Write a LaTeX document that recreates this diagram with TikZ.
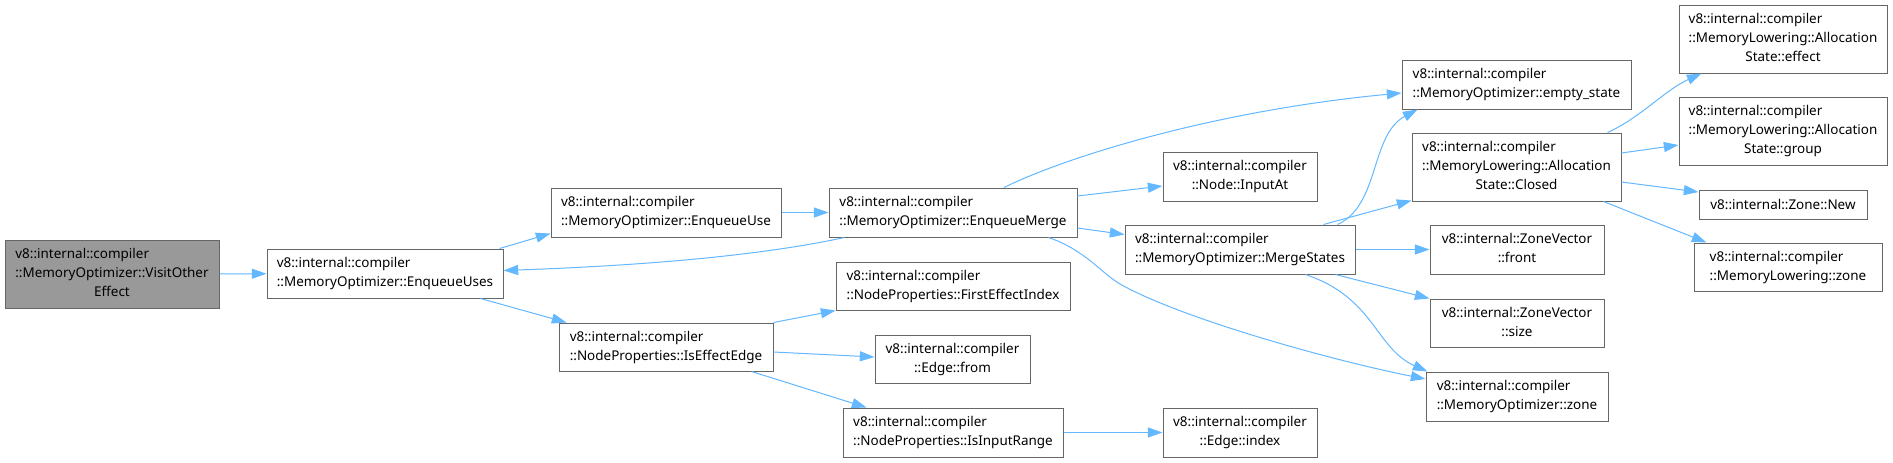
\documentclass[tikz,border=0pt]{standalone}
\usepackage{fontspec}
\setmainfont{Noto Sans}
\usetikzlibrary{calc,arrows.meta}
\definecolor{edgeblue}{HTML}{63B8FF}
\definecolor{nodeborder}{HTML}{666666}
\definecolor{rootfill}{HTML}{999999}
\newcommand\lbltwo[2]{\begin{tabular}{@{}l@{}}#1\\\multicolumn{1}{@{}c@{}}{#2}\end{tabular}}
\newcommand\lblthree[3]{\begin{tabular}{@{}l@{}}#1\\#2\\\multicolumn{1}{@{}c@{}}{#3}\end{tabular}}
\begin{document}
\begin{tikzpicture}[x=0.75pt,y=-0.75pt,
  font=\fontsize{10.1}{14.2}\selectfont,
  box/.style={draw=nodeborder, line width=0.75pt, fill=white, inner sep=0pt, align=center, text=black},
  root/.style={box, fill=rootfill},
  wh/.style 2 args={minimum width=#1*0.75pt, minimum height=#2*0.75pt},
  conn/.style={draw=edgeblue, line width=0.75pt, -{Triangle[length=11pt,width=7.5pt]}}]
\fill[white] (0,0) rectangle (1893,462);
\useasboundingbox (0,0) rectangle (1893,462);

\node[root, wh={214}{68}] (visit) at (112,274) {\lblthree{v8::internal::compiler}{::MemoryOptimizer::VisitOther}{Effect}};
\node[box, wh={236}{49}] (uses) at (385,273.5) {\lbltwo{v8::internal::compiler}{::MemoryOptimizer::EnqueueUses}};
\node[box, wh={230}{49}] (use) at (666,212.5) {\lbltwo{v8::internal::compiler}{::MemoryOptimizer::EnqueueUse}};
\node[box, wh={248}{49}] (merge) at (953,212.5) {\lbltwo{v8::internal::compiler}{::MemoryOptimizer::EnqueueMerge}};
\node[box, wh={234}{48}] (fei) at (953,286) {\lbltwo{v8::internal::compiler}{::NodeProperties::FirstEffectIndex}};
\node[box, wh={214}{48}] (iee) at (666,347) {\lbltwo{v8::internal::compiler}{::NodeProperties::IsEffectEdge}};
\node[box, wh={155}{48}] (efrom) at (952.5,359) {\lbltwo{v8::internal::compiler}{::Edge::from}};
\node[box, wh={220}{49}] (iir) at (953,432.5) {\lbltwo{v8::internal::compiler}{::NodeProperties::IsInputRange}};
\node[box, wh={154}{49}] (inputat) at (1240,176.5) {\lbltwo{v8::internal::compiler}{::Node::InputAt}};
\node[box, wh={230}{49}] (merges) at (1240,249.5) {\lbltwo{v8::internal::compiler}{::MemoryOptimizer::MergeStates}};
\node[box, wh={154}{49}] (eindex) at (1240,432.5) {\lbltwo{v8::internal::compiler}{::Edge::index}};
\node[box, wh={229}{49}] (empty) at (1516.5,84.5) {\lbltwo{v8::internal::compiler}{::MemoryOptimizer::empty\_state}};
\node[box, wh={209}{68}] (closed) at (1516.5,167) {\lblthree{v8::internal::compiler}{::MemoryLowering::Allocation}{State::Closed}};
\node[box, wh={174}{49}] (front) at (1517,249.5) {\lbltwo{v8::internal::ZoneVector}{::front}};
\node[box, wh={174}{48}] (size) at (1517,323) {\lbltwo{v8::internal::ZoneVector}{::size}};
\node[box, wh={182}{49}] (mozone) at (1517,396.5) {\lbltwo{v8::internal::compiler}{::MemoryOptimizer::zone}};
\node[box, wh={208}{68}] (effect) at (1783,39) {\lblthree{v8::internal::compiler}{::MemoryLowering::Allocation}{State::effect}};
\node[box, wh={208}{68}] (group) at (1783,131) {\lblthree{v8::internal::compiler}{::MemoryLowering::Allocation}{State::group}};
\node[box, wh={168}{29}] (znew) at (1783,204.5) {v8::internal::Zone::New};
\node[box, wh={188}{48}] (mlzone) at (1788,267) {\lbltwo{v8::internal::compiler}{::MemoryLowering::zone}};

\draw[conn] (visit) -- (uses);
\draw[conn] ($(uses.north east)+(-4,0)$) -- ($(use.south west)+(0,-4)$);
\draw[conn] ($(uses.south east)+(-23,0)$) -- ($(iee.north west)+(8,0)$);
\draw[conn] (use) -- (merge);
\draw[conn] ($(merge.south west)+(16,0)$) .. controls (740,260) and (600,267) .. ($(uses.east)+(0,-3)$);
\draw[conn] ($(merge.north)+(51,0)$) .. controls (1070,155) and (1220,110) .. ($(empty.west)+(0,8.5)$);
\draw[conn] ($(merge.east)+(0,-16.5)$) -- ($(inputat.west)+(0,9.5)$);
\draw[conn] ($(merge.east)+(0,15.5)$) -- ($(merges.west)+(0,-15)$);
\draw[conn] ($(merge.south east)+(-29,0)$) .. controls (1085,250) and (1100,272) .. (1120,284) .. controls (1180,318) and (1330,360) .. ($(mozone.west)+(0,-17.5)$);
\draw[conn] (iee.north east) -- (fei.south west);
\draw[conn] ($(iee.east)+(0,5)$) -- ($(efrom.west)+(0,-2)$);
\draw[conn] ($(iee.south east)+(-22,0)$) -- ($(iir.north west)+(24,0)$);
\draw[conn] (iir) -- (eindex);
\draw[conn] ($(merges.north east)+(-18,0)$) .. controls (1380,205) and (1370,135) .. ($(empty.south west)+(16,0)$);
\draw[conn] ($(merges.north east)+(-32,0)$) -- ($(closed.south west)+(0,-1)$);
\draw[conn] (merges) -- (front);
\draw[conn] ($(merges.south east)+(-20,0)$) -- (size.north west);
\draw[conn] ($(merges.south east)+(-50,0)$) .. controls (1375,298) and (1375,348) .. ($(mozone.north west)+(2,0)$);
\draw[conn] ($(closed.north east)+(-14,0)$) .. controls (1640,118) and (1665,90) .. ($(effect.south west)+(23,0)$);
\draw[conn] ($(closed.east)+(0,-14)$) -- ($(group.west)+(0,14)$);
\draw[conn] ($(closed.east)+(0,15)$) -- ($(znew.west)+(0,-12.5)$);
\draw[conn] ($(closed.south east)+(-18,0)$) -- ($(mlzone.north west)+(13,0)$);
\end{tikzpicture}
\end{document}
